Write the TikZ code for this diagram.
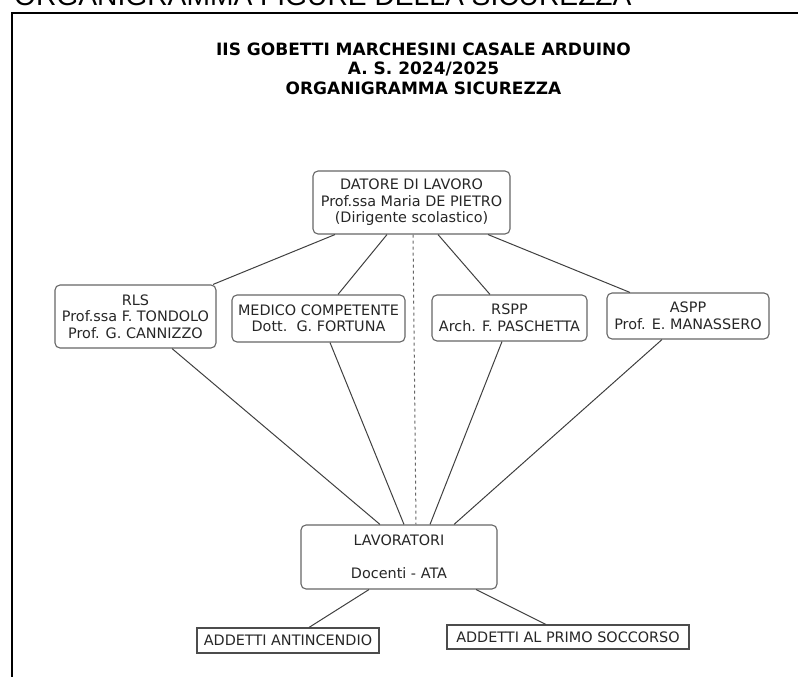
\documentclass[tikz,border=0pt]{standalone}
\usepackage{fontspec}
\setmainfont{DejaVu Sans}
\newfontfamily\arialfont{Liberation Sans}
\usepackage{tikz}

\begin{document}
\begin{tikzpicture}[x=1pt, y=-1pt,
    box/.style={draw=black!60, line width=1.1pt, rounded corners=5pt, align=center, inner sep=0pt,
                font=\fontsize{14.4}{16.5}\selectfont, text=black!85},
    flatbox/.style={draw=black!70, line width=1.1pt, inner sep=0pt, align=center,
                font=\fontsize{14.4}{16.5}\selectfont, text=black!85},
    link/.style={draw=black!75, line width=1pt}]
                \useasboundingbox (0,0) rectangle (798,677);
                \draw[line width=2pt] (12,677) -- (12,13) -- (798,13);
                \node[anchor=base west, inner sep=0pt, font=\arialfont\fontsize{28.2}{30}\selectfont] (head) at (14,6) {ORGANIGRAMMA FIGURE DELLA SICUREZZA};
                \node[align=center, inner sep=0pt, font=\bfseries\fontsize{17}{19.5}\selectfont] (title) at (423.5,68.5)
                    {IIS GOBETTI MARCHESINI CASALE ARDUINO\\A. S. 2024/2025\\ORGANIGRAMMA SICUREZZA};
                \node[box, minimum width=197pt, minimum height=63pt] (dat) at (411.5,202.5)
                    {DATORE DI LAVORO\\Prof.ssa Maria DE PIETRO\\(Dirigente scolastico)};
                \node[box, minimum width=161pt, minimum height=63pt] (rls) at (135.5,316.5)
                    {RLS\\Prof.ssa F. TONDOLO\\Prof. G. CANNIZZO};
                \node[box, minimum width=173pt, minimum height=47pt] (med) at (318.5,318.5)
                    {MEDICO COMPETENTE\\Dott.\ \ G. FORTUNA};
                \node[box, minimum width=155pt, minimum height=46pt] (rspp) at (509.5,318)
                    {RSPP\\Arch. F. PASCHETTA};
                \node[box, minimum width=162pt, minimum height=46pt] (aspp) at (688,316)
                    {ASPP\\Prof. E. MANASSERO};
                \node[box, minimum width=196pt, minimum height=64pt] (lav) at (399,557)
                    {LAVORATORI\\[16pt]Docenti - ATA};
                \node[flatbox, minimum width=182pt, minimum height=25pt] (ant) at (288,640.5) {ADDETTI ANTINCENDIO};
                \node[flatbox, minimum width=242pt, minimum height=24pt] (soc) at (568,637) {ADDETTI AL PRIMO SOCCORSO};
                \draw[link] ([xshift=-76.5pt]dat.south) -- ([xshift=77.5pt]rls.north);
                \draw[link] ([xshift=-24.5pt]dat.south) -- ([xshift=19.5pt]med.north);
                \draw[link] ([xshift=26.5pt]dat.south) -- ([xshift=-19.5pt]rspp.north);
                \draw[link] ([xshift=76.5pt]dat.south) -- ([xshift=-58pt]aspp.north);
                \draw[link, black!60, dashed] ([xshift=1.5pt]dat.south) -- ([xshift=17pt]lav.north);
                \draw[link] ([xshift=36.5pt]rls.south) -- ([xshift=-19pt]lav.north);
                \draw[link] ([xshift=11.5pt]med.south) -- ([xshift=5pt]lav.north);
                \draw[link] ([xshift=-7.5pt]rspp.south) -- ([xshift=31pt]lav.north);
                \draw[link] ([xshift=-26pt]aspp.south) -- ([xshift=55pt]lav.north);
                \draw[link] ([xshift=-30pt]lav.south) -- ([xshift=21pt]ant.north);
                \draw[link] ([xshift=77pt]lav.south) -- ([xshift=-22pt]soc.north);
            \end{tikzpicture}
\end{document}
